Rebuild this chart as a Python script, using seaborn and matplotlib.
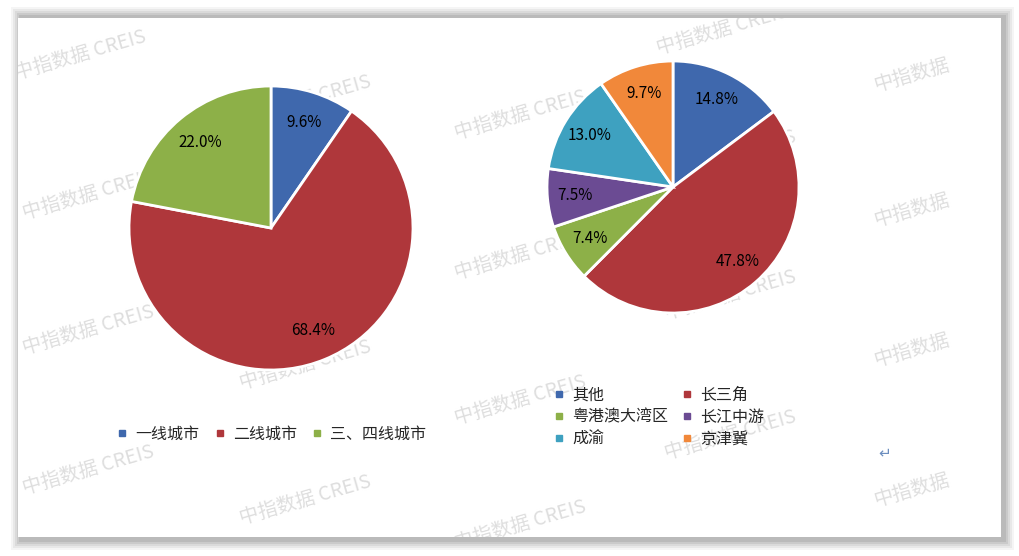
import seaborn as sns
import matplotlib.pyplot as plt
from matplotlib.lines import Line2D
from matplotlib.patches import Rectangle

sns.set_theme(style="white")
plt.rcParams['font.family'] = ['Noto Sans CJK SC', 'DejaVu Sans']

# data
city_labels = ['一线城市', '二线城市', '三、四线城市']
city_share = [9.6, 68.4, 22.0]
region_labels = ['其他', '长三角', '粤港澳大湾区', '长江中游', '成渝', '京津冀']
region_share = [14.8, 47.8, 7.4, 7.5, 13.0, 9.7]

colors = sns.color_palette(['#3F68AD', '#AF373B', '#8DB048', '#6B4B93', '#3EA1C0', '#F1883A'])

W, H = 1019, 556
fig = plt.figure(figsize=(W / 100, H / 100), dpi=100, facecolor='white')

# panel shadow + white panel
for i, a in enumerate([0.04, 0.05, 0.06, 0.07, 0.08]):
    g = 10 - 2 * i
    fig.patches.append(Rectangle(((18 - g + 3) / W, (19 - g - 3) / H), (983 + 2 * g) / W,
                                 (519 + 2 * g + 4) / H, transform=fig.transFigure,
                                 facecolor='black', alpha=a, edgecolor='none', zorder=0))
panel = Rectangle((18 / W, 19 / H), 983 / W, 519 / H, transform=fig.transFigure,
                  facecolor='white', edgecolor='none', zorder=0.5)
fig.patches.append(panel)

# watermarks
wm_full = [(80, 55), (722, 30), (305, 100), (88, 195), (520, 115), (730, 155),
           (305, 235), (520, 255), (730, 295), (88, 330), (305, 365), (520, 400),
           (88, 470), (730, 435), (305, 500), (520, 525)]
wm_short = [(912, 75), (912, 210), (912, 350), (912, 490)]
for pos, txt in [(p, '中指数据 CREIS') for p in wm_full] + [(p, '中指数据') for p in wm_short]:
    x, y = pos
    t = fig.text(x / W, 1 - y / H, txt, fontsize=14, fontweight='medium',
                 color='#dedede', rotation=16, ha='center', va='center', zorder=0.6)
    t.set_clip_path(panel)


def draw_pie(ax, vals, cols):
    wedges, _, autotexts = ax.pie(vals, colors=cols, startangle=90, counterclock=False,
                                  autopct=lambda p: '', pctdistance=0.78,
                                  wedgeprops=dict(edgecolor='white', linewidth=2))
    for v, at in zip(vals, autotexts):
        at.set_text(f'{v:.1f}%')
        at.set_fontsize(11)
        at.set_color('black')
    ax.set_xlim(-1, 1)
    ax.set_ylim(-1, 1)
    ax.set_aspect('equal')
    ax.set_zorder(2)
    return wedges


ax1 = fig.add_axes([129 / W, (H - 370) / H, 284 / W, 284 / H])
ax1.patch.set_visible(False)
draw_pie(ax1, city_share, colors[:3])

ax2 = fig.add_axes([547 / W, (H - 313) / H, 252 / W, 252 / H])
ax2.patch.set_visible(False)
draw_pie(ax2, region_share, colors)


def handles(labels, cols):
    return [Line2D([], [], marker='s', linestyle='none', markersize=5,
                   markerfacecolor=c, markeredgecolor=c, label=l) for l, c in zip(labels, cols)]


leg1 = fig.legend(handles=handles(city_labels, colors[:3]), loc='center left',
                  bbox_to_anchor=(108 / W, 1 - 434 / H), ncol=3, frameon=False,
                  fontsize=11.5, handlelength=0.8, handletextpad=0.4, columnspacing=0.9,
                  borderpad=0)
# column-major order for two-column legend
order = [0, 2, 4, 1, 3, 5]
leg2 = fig.legend(handles=[handles(region_labels, colors)[i] for i in order], loc='upper left',
                  bbox_to_anchor=(545 / W, 1 - 379 / H), ncol=2, frameon=False,
                  fontsize=11.5, handlelength=0.8, handletextpad=0.4, columnspacing=0.8,
                  labelspacing=0.3, borderpad=0)
for leg in (leg1, leg2):
    leg.set_zorder(3)

fig.text(885 / W, 1 - 453 / H, '↵', fontsize=11, color='#6c8ebf', ha='center', va='center',
         family=['DejaVu Sans'], zorder=3)

fig.savefig('out.png', dpi=100, facecolor='white')
